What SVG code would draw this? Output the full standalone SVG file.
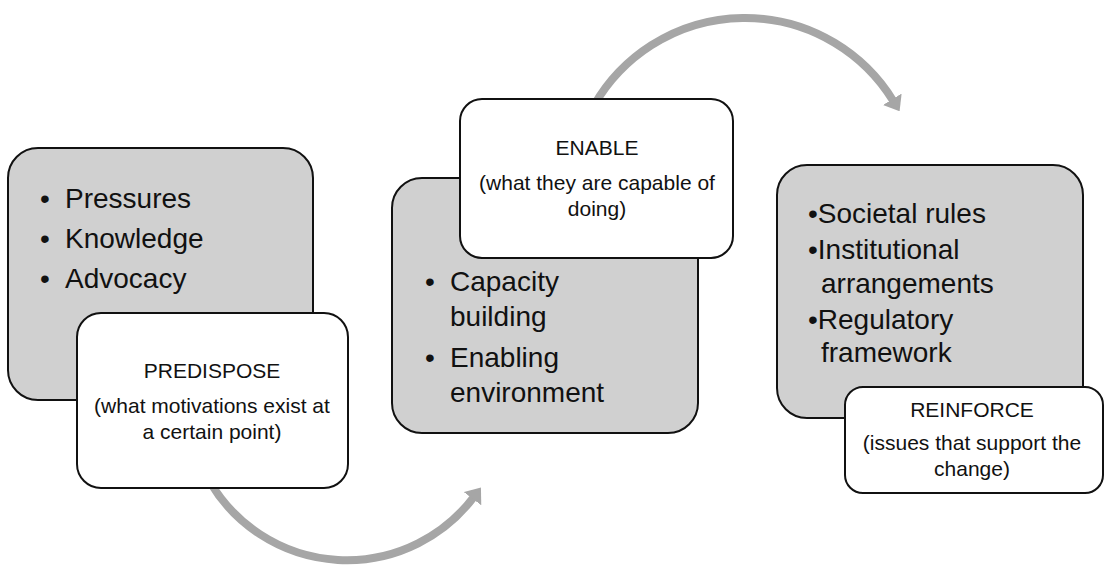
<svg xmlns="http://www.w3.org/2000/svg" width="1108" height="565" viewBox="0 0 1108 565">
<style>
.bg{fill:#ffffff}
.grey{fill:#d0d0d0;stroke:#111;stroke-width:2}
.white{fill:#ffffff;stroke:#111;stroke-width:2}
.big{font-family:"Liberation Sans",Arial,sans-serif;font-size:28px;fill:#111}
.small{font-family:"Liberation Sans",Arial,sans-serif;font-size:21px;fill:#111;text-anchor:middle}
.arc{fill:none;stroke:#a6a6a6;stroke-width:8}
</style>
<defs>
<marker id="head" markerUnits="userSpaceOnUse" viewBox="0 0 14 22" refX="2" refY="11" markerWidth="14" markerHeight="22" orient="auto">
<path d="M0,0 L14,11 L0,22 Z" fill="#a6a6a6"/>
</marker>
</defs>
<rect class="bg" x="0" y="0" width="1108" height="565"/>
<g id="connectors">
<path class="arc" d="M210,482 A159,159 0 0 0 473.7,497.1" marker-end="url(#head)"/>
<path class="arc" d="M594.3,105 A174,174 0 0 1 893.3,101" marker-end="url(#head)"/>
</g>
<g id="predispose-content">
<rect class="grey" x="8" y="148" width="305" height="252" rx="30" ry="30"/>
<text class="big" x="40" y="208">•</text><text class="big" x="65" y="208">Pressures</text>
<text class="big" x="40" y="248">•</text><text class="big" x="65" y="248">Knowledge</text>
<text class="big" x="40" y="288">•</text><text class="big" x="65" y="288">Advocacy</text>
</g>
<g id="predispose">
<rect class="white" x="77" y="313" width="271" height="175" rx="24" ry="24"/>
<text class="small" x="212" y="378">PREDISPOSE</text>
<text class="small" x="212" y="413">(what motivations exist at</text>
<text class="small" x="212" y="439">a certain point)</text>
</g>
<g id="enable-content">
<rect class="grey" x="392" y="178" width="306" height="255" rx="30" ry="30"/>
<text class="big" x="425" y="291">•</text><text class="big" x="450" y="291">Capacity</text>
<text class="big" x="450" y="326">building</text>
<text class="big" x="425" y="367">•</text><text class="big" x="450" y="367">Enabling</text>
<text class="big" x="450" y="402">environment</text>
</g>
<g id="enable">
<rect class="white" x="460" y="99" width="273" height="159" rx="22" ry="22"/>
<text class="small" x="597" y="155">ENABLE</text>
<text class="small" x="597" y="190">(what they are capable of</text>
<text class="small" x="597" y="216">doing)</text>
</g>
<g id="reinforce-content">
<rect class="grey" x="777" y="165" width="306" height="253" rx="30" ry="30"/>
<text class="big" x="808" y="223">•Societal rules</text>
<text class="big" x="808" y="259">•Institutional</text>
<text class="big" x="821" y="293">arrangements</text>
<text class="big" x="808" y="329">•Regulatory</text>
<text class="big" x="821" y="362">framework</text>
</g>
<g id="reinforce">
<rect class="white" x="845" y="387" width="258" height="106" rx="18" ry="18"/>
<text class="small" x="972" y="417">REINFORCE</text>
<text class="small" x="972" y="450">(issues that support the</text>
<text class="small" x="972" y="476">change)</text>
</g>
</svg>
